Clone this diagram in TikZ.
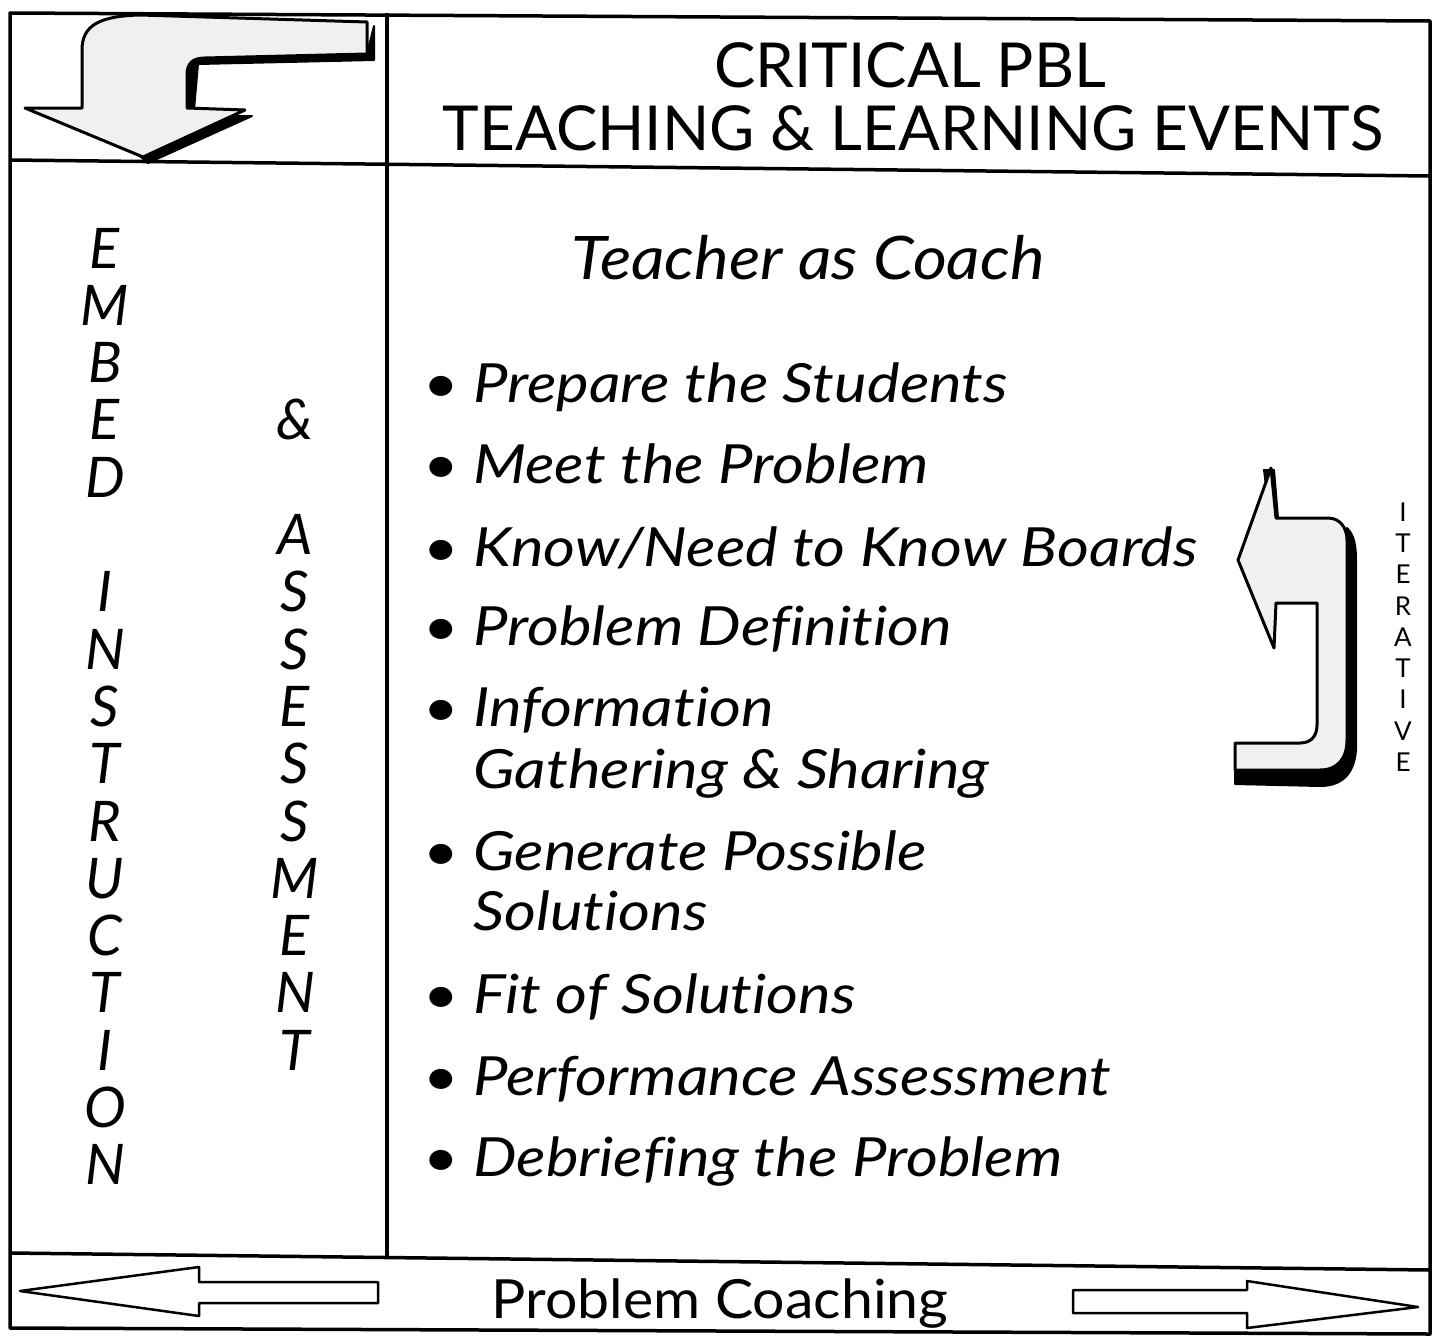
\documentclass[tikz,border=0pt]{standalone}
\usepackage{fontspec}
\setmainfont{Lato}
\newfontfamily\itemfam[FakeStretch=1.14,Ligatures=NoCommon]{Lato}
\newfontfamily\coachfam[FakeStretch=1.09,Ligatures=NoCommon]{Lato}
\newfontfamily\pcfam[FakeStretch=1.06]{Lato}
\newcommand\titlefont{\fontsize{62}{70}\selectfont}
\newcommand\itemfont{\itemfam\fontsize{54}{60}\selectfont\itshape}
\newcommand\colfont{\fontsize{56}{60}\selectfont\itshape}
\newcommand\itfont{\fontsize{26}{28}\selectfont}
\begin{document}
\begin{tikzpicture}[x=1pt,y=-1pt,line join=round]
\useasboundingbox (0,0) rectangle (1437,1338);
\tikzset{
  frame/.style={line width=3.5pt},
  item/.style={anchor=base west,font=\itemfont,inner sep=0pt},
  bul/.style={anchor=base,font=\itemfont,inner sep=0pt},
  col/.style={anchor=base,font=\colfont,inner sep=0pt},
  itl/.style={font=\itfont,inner sep=0pt},
  bigarrow/.style={fill=gray!12,draw=black,line width=3pt},
  shadow/.style={fill=black,draw=black,line width=2pt},
  flatarrow/.style={fill=white,draw=black,line width=2.5pt}
}
% frame
\draw[frame] (10,13) -- (1430,21) -- (1430,1334) -- (10,1328) -- cycle;
\draw[frame] (10,160) -- (1430,176);
\draw[frame] (10,1253) -- (1430,1270);
\draw[frame] (387,13) -- (387,1256);

% header text
\node[font=\titlefont,inner sep=0pt] (t1) at (910,65) {CRITICAL PBL};
\node[font=\titlefont,inner sep=0pt] (t2) at (913,128) {TEACHING \& LEARNING EVENTS};

% top-left bent arrow: shadow then shape
\fill[shadow] (95,116) -- (252,116) -- (148,163) -- cycle;
\fill[shadow] (374,26) -- (374,60) -- (198,64) -- (194,110) -- (188,110) -- (188,58) -- (367,54) -- cycle;
\draw[bigarrow] (143,157) -- (25,108) -- (82,108) -- (82,50) .. controls (82,25) and (100,16) .. (140,15)
  -- (367,22) -- (367,54) -- (205,58) .. controls (192,58) and (187,64) .. (187,75) -- (187,108) -- (245,110) -- cycle;

% Teacher as Coach
\node[font=\coachfam\fontsize{60}{66}\selectfont\itshape,inner sep=0pt] (coach) at (808,258) {Teacher as Coach};

% items
\node[bul] (b1) at (441,402) {•}; \node[item] (i1) at (473,402) {Prepare the Students};
\node[bul] (b2) at (441,483) {•}; \node[item] (i2) at (473,483) {Meet the Problem};
\node[bul] (b3) at (441,566) {•}; \node[item] (i3) at (473,566) {Know/Need to Know Boards};
\node[bul] (b4) at (441,645) {•}; \node[item] (i4) at (473,645) {Problem Definition};
\node[bul] (b5) at (441,726) {•}; \node[item] (i5) at (473,726) {Information};
\node[item] (i5b) at (473,788) {Gathering \& Sharing};
\node[bul] (b6) at (441,870) {•}; \node[item] (i6) at (473,870) {Generate Possible};
\node[item] (i6b) at (473,930) {Solutions};
\node[bul] (b7) at (441,1013) {•}; \node[item] (i7) at (473,1013) {Fit of Solutions};
\node[bul] (b8) at (441,1095) {•}; \node[item] (i8) at (473,1095) {Performance Assessment};
\node[bul] (b9) at (441,1176) {•}; \node[item] (i9) at (473,1176) {Debriefing the Problem};

% left columns
\foreach \ch [count=\k from 0] in {E,M,B,E,D,{},I,N,S,T,R,U,C,T,I,O,N}
  \node[col] (l\k) at (105,{268+57.3*\k}) {\ch};
\foreach \ch [count=\k from 5] in {A,S,S,E,S,S,M,E,N,T}
  \node[col] (r\k) at (295,{268+57.3*\k}) {\ch};
\node[col] (amp) at (295,{268+57.3*3}) {\&};

% iterative arrow
\fill[shadow] (1347,528) .. controls (1354,535) and (1356,545) .. (1356,560) -- (1356,750)
  .. controls (1354,776) and (1340,786) .. (1320,786) -- (1235,784) -- (1235,770) -- (1320,770)
  .. controls (1338,768) and (1347,758) .. (1347,740) -- cycle;
\fill[shadow] (1264,470) -- (1274,470) -- (1278,518) -- (1270,518) -- cycle;
\draw[bigarrow] (1238,560) -- (1271,468) -- (1276,518) -- (1328,518)
  .. controls (1340,518) and (1347,528) .. (1347,540) -- (1347,740)
  .. controls (1347,758) and (1338,770) .. (1320,770) -- (1235,770) -- (1235,743) -- (1300,743)
  .. controls (1312,743) and (1317,735) .. (1317,725) -- (1317,603) -- (1276,603) -- (1274,648) -- cycle;

% ITERATIVE
\foreach \ch [count=\k from 0] in {I,T,E,R,A,T,I,V,E}
  \node[itl] (it\k) at (1403,{512+31.25*\k}) {\ch};

% bottom arrows
\draw[flatarrow] (20,1291) -- (199,1267) -- (199,1282) -- (378,1282) -- (378,1303) -- (199,1303) -- (199,1316) -- cycle;
\draw[flatarrow] (1418,1307) -- (1247,1281) -- (1247,1290) -- (1073,1290) -- (1073,1313) -- (1247,1313) -- (1247,1328) -- cycle;
\node[font=\pcfam\fontsize{54}{60}\selectfont,anchor=base,inner sep=0pt] (pc) at (720,1318) {Problem Coaching};
\end{tikzpicture}
\end{document}
